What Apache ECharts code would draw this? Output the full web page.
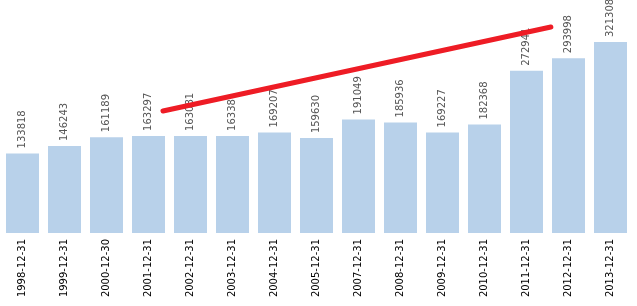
<!DOCTYPE html>
<html><head><meta charset="utf-8">
<script src="https://cdn.jsdelivr.net/npm/echarts@6/dist/echarts.min.js"></script>
<style>html,body{margin:0;padding:0;background:#fff}#c{width:637px;height:306px}</style>
</head><body><div id="c"></div>
<script>
var categories = ['1998-12-31','1999-12-31','2000-12-30','2001-12-31','2002-12-31','2003-12-31','2004-12-31','2005-12-31','2007-12-31','2008-12-31','2009-12-31','2010-12-31','2011-12-31','2012-12-31','2013-12-31'];
var values = [133818,146243,161189,163297,163081,163381,169207,159630,191049,185936,169227,182368,272941,293998,321308];
var trendX = [3.345, 12.58];
var trendY = [205200, 346500];

var chart = echarts.init(document.getElementById('c'));
chart.setOption({
  animation:false,
  grid:{left:1.5,right:5.5,top:19,bottom:73,containLabel:false},
  xAxis:[{type:'category',data:categories,axisLine:{show:false},axisTick:{show:false},
    axisLabel:{rotate:90,interval:0,color:'#000',fontFamily:'DejaVu Sans',fontSize:10,margin:6}},
    {type:'value',min:-0.5,max:14.5,show:false}],
  yAxis:{type:'value',min:0,max:360000,show:false},
  series:[{type:'bar',data:values,barWidth:33,itemStyle:{color:'#b8d1ea'},
    label:{show:true,position:'top',rotate:90,align:'left',verticalAlign:'middle',distance:5,color:'#555',fontFamily:'DejaVu Sans',fontSize:10}},
   {type:'line',xAxisIndex:1,data:[[trendX[0],trendY[0]],[trendX[1],trendY[1]]],symbol:'none',
    lineStyle:{color:'#ee1c25',width:5,cap:'round'},z:5}]
});
</script></body></html>
